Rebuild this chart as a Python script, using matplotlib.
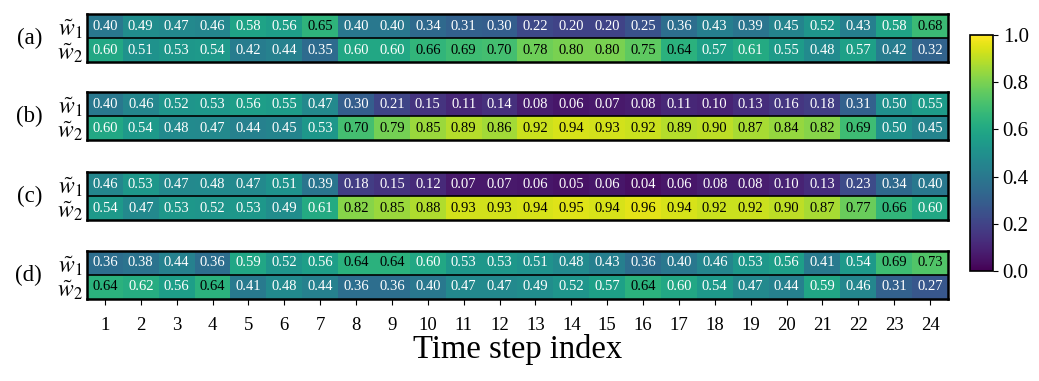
import numpy as np
import matplotlib
matplotlib.use("Agg")
import matplotlib.pyplot as plt

plt.rcParams['font.family'] = ['Liberation Serif', 'DejaVu Serif']
plt.rcParams['mathtext.fontset'] = 'stix'

steps = list(range(1, 25))
panel_labels = ["(a)", "(b)", "(c)", "(d)"]
row_labels = [r"$\tilde{w}_1$", r"$\tilde{w}_2$"]

a_w1 = [0.40, 0.49, 0.47, 0.46, 0.58, 0.56, 0.65, 0.40, 0.40, 0.34, 0.31, 0.30, 0.22, 0.20, 0.20, 0.25, 0.36, 0.43, 0.39, 0.45, 0.52, 0.43, 0.58, 0.68]
a_w2 = [0.60, 0.51, 0.53, 0.54, 0.42, 0.44, 0.35, 0.60, 0.60, 0.66, 0.69, 0.70, 0.78, 0.80, 0.80, 0.75, 0.64, 0.57, 0.61, 0.55, 0.48, 0.57, 0.42, 0.32]
b_w1 = [0.40, 0.46, 0.52, 0.53, 0.56, 0.55, 0.47, 0.30, 0.21, 0.15, 0.11, 0.14, 0.08, 0.06, 0.07, 0.08, 0.11, 0.10, 0.13, 0.16, 0.18, 0.31, 0.50, 0.55]
b_w2 = [0.60, 0.54, 0.48, 0.47, 0.44, 0.45, 0.53, 0.70, 0.79, 0.85, 0.89, 0.86, 0.92, 0.94, 0.93, 0.92, 0.89, 0.90, 0.87, 0.84, 0.82, 0.69, 0.50, 0.45]
c_w1 = [0.46, 0.53, 0.47, 0.48, 0.47, 0.51, 0.39, 0.18, 0.15, 0.12, 0.07, 0.07, 0.06, 0.05, 0.06, 0.04, 0.06, 0.08, 0.08, 0.10, 0.13, 0.23, 0.34, 0.40]
c_w2 = [0.54, 0.47, 0.53, 0.52, 0.53, 0.49, 0.61, 0.82, 0.85, 0.88, 0.93, 0.93, 0.94, 0.95, 0.94, 0.96, 0.94, 0.92, 0.92, 0.90, 0.87, 0.77, 0.66, 0.60]
d_w1 = [0.36, 0.38, 0.44, 0.36, 0.59, 0.52, 0.56, 0.64, 0.64, 0.60, 0.53, 0.53, 0.51, 0.48, 0.43, 0.36, 0.40, 0.46, 0.53, 0.56, 0.41, 0.54, 0.69, 0.73]
d_w2 = [0.64, 0.62, 0.56, 0.64, 0.41, 0.48, 0.44, 0.36, 0.36, 0.40, 0.47, 0.47, 0.49, 0.52, 0.57, 0.64, 0.60, 0.54, 0.47, 0.44, 0.59, 0.46, 0.31, 0.27]

panels = [(a_w1, a_w2), (b_w1, b_w2), (c_w1, c_w2), (d_w1, d_w2)]

W, H = 1039, 381
fig = plt.figure(figsize=(W / 100, H / 100), dpi=100)

left, right = 87 / W, 948 / W
tops = [14, 92, 172, 251]
ph = 48
cmap = plt.get_cmap('viridis')
im = None
for i, ((w1, w2), top) in enumerate(zip(panels, tops)):
    ax = fig.add_axes([left, 1 - (top + ph) / H, right - left, ph / H])
    data = np.array([w1, w2])
    im = ax.imshow(data, cmap=cmap, vmin=0, vmax=1, aspect='auto',
                   extent=[0.5, 24.5, 1.5, -0.5])
    for r in range(2):
        for c in range(24):
            v = data[r, c]
            ax.text(steps[c], r, f"{v:.2f}", ha='center', va='center',
                    fontsize=10.5, color='black' if v > 0.62 else 'white')
    ax.axhline(0.5, color='black', lw=1.2)
    ax.set_yticks([0, 1])
    ax.set_yticklabels(row_labels, fontsize=17)
    ax.tick_params(axis='y', length=0, pad=3)
    for s in ax.spines.values():
        s.set_linewidth(1.8)
    if i < 3:
        ax.set_xticks([])
    else:
        ax.set_xticks(steps)
        ax.set_xticklabels([str(s) for s in steps], fontsize=13.5)
        ax.tick_params(axis='x', length=4, pad=9)
        ax.set_xlabel("Time step index", fontsize=23.5, labelpad=0)
    ax.text(-0.052, 0.5, panel_labels[i], transform=ax.transAxes,
            ha='right', va='center', fontsize=16.5)

cax = fig.add_axes([970 / W, 1 - 271 / H, 23 / W, (271 - 35) / H])
cb = fig.colorbar(im, cax=cax)
cb.set_ticks([0.0, 0.2, 0.4, 0.6, 0.8, 1.0])
cb.ax.tick_params(labelsize=15)
cb.outline.set_linewidth(1.2)

fig.savefig("out.png", dpi=100)
